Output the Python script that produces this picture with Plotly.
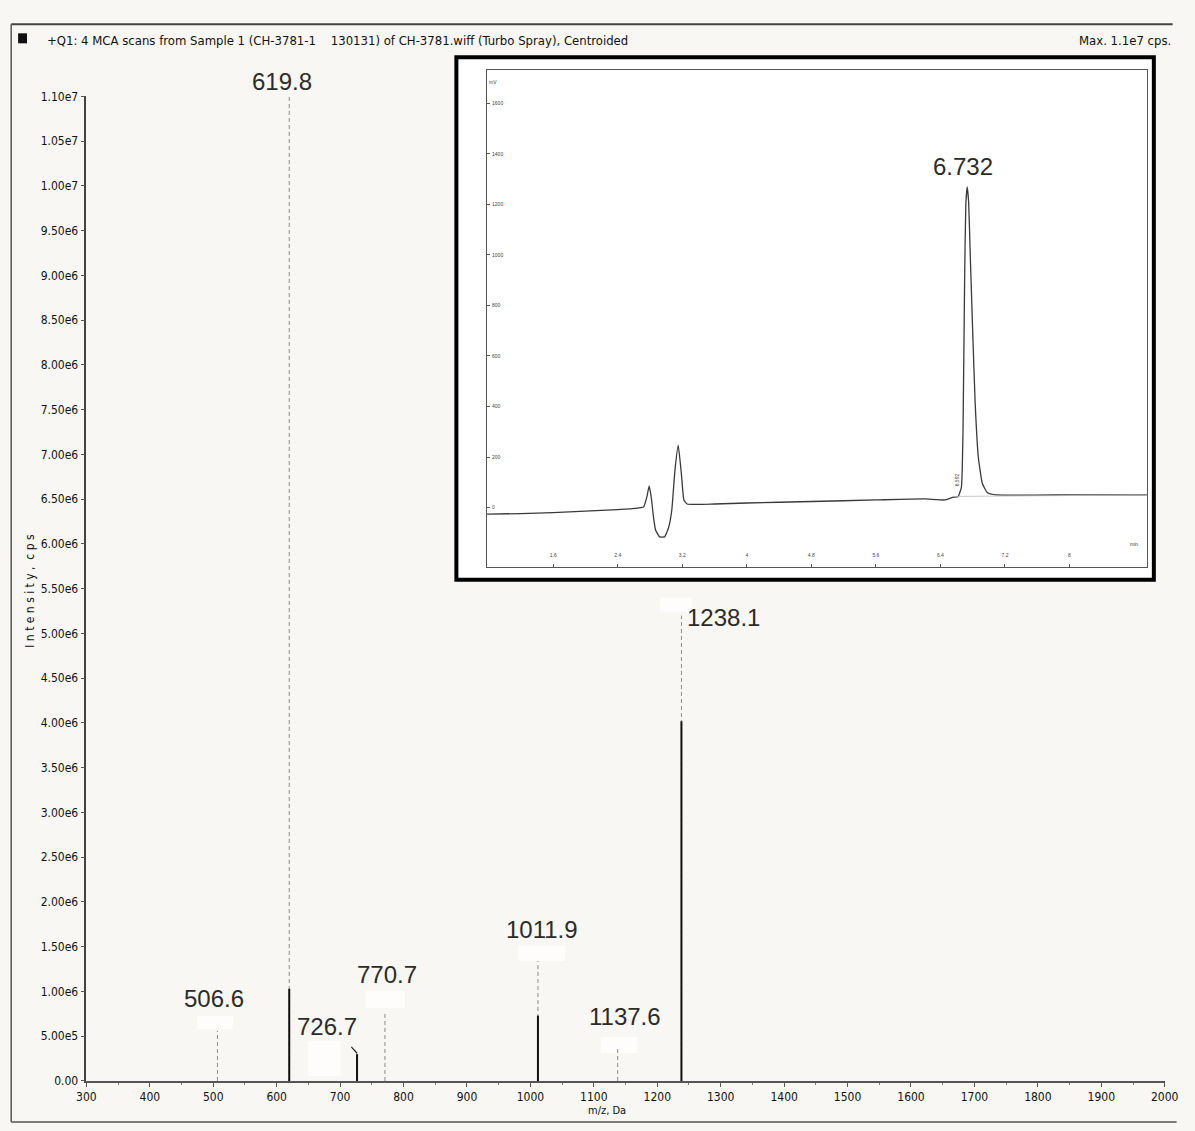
import plotly.graph_objects as go

# ---------------- Mass spectrum (centroided) ----------------
mz_values = [506.6, 619.8, 726.7, 770.7, 1011.9, 1137.6, 1238.1]
apex_intensity = [0.56e6, 1.10e7, 0.30e6, 0.76e6, 1.34e6, 0.36e6, 5.20e6]
centroid_intensity = [0.0, 1.03e6, 0.30e6, 0.0, 0.73e6, 0.0, 4.02e6]
peak_labels = ["506.6", "619.8", "726.7", "770.7", "1011.9", "1137.6", "1238.1"]

y_tick_vals = [i * 5e5 for i in range(23)]
y_tick_text = ["0.00", "5.00e5", "1.00e6", "1.50e6", "2.00e6", "2.50e6", "3.00e6",
               "3.50e6", "4.00e6", "4.50e6", "5.00e6", "5.50e6", "6.00e6", "6.50e6",
               "7.00e6", "7.50e6", "8.00e6", "8.50e6", "9.00e6", "9.50e6", "1.00e7",
               "1.05e7", "1.10e7"]
x_tick_vals = list(range(300, 2001, 100))

# ---------------- HPLC chromatogram (inset) ----------------
rt_min = [0.78, 1.2, 1.6, 2.0, 2.4, 2.65, 2.72, 2.76, 2.79, 2.82, 2.84, 2.87, 2.92,
          2.98, 3.03, 3.07, 3.11, 3.15, 3.19, 3.22, 3.26, 3.6, 4.0, 4.8, 5.6, 6.2,
          6.45, 6.55, 6.62, 6.66, 6.68, 6.70, 6.715, 6.732, 6.75, 6.77, 6.80, 6.83,
          6.87, 6.92, 6.98, 7.1, 8.0, 8.96]
signal_mv = [-26, -24, -20, -14, -8, -2, 2, 40, 86, 30, -30, -90, -116,
             -116, -80, -10, 150, 247, 130, 30, 14, 14, 18, 24, 30, 34,
             30, 40, 44, 80, 300, 900, 1200, 1270, 1210, 1000, 700, 420,
             200, 95, 60, 50, 50, 50]
inset_x_ticks = [1.6, 2.4, 3.2, 4.0, 4.8, 5.6, 6.4, 7.2, 8.0]
inset_x_text = ["1.6", "2.4", "3.2", "4", "4.8", "5.6", "6.4", "7.2", "8"]
inset_y_ticks = [-200, 0, 200, 400, 600, 800, 1000, 1200, 1400, 1600]
main_peak_rt = "6.732"
shoulder_rt = "6.592"

W, H = 1195, 1131
BG = "#f9f7f3"
TXT = "#2b2b2b"
NARROW = "Liberation Sans Narrow, DejaVu Sans Condensed, Arial Narrow, sans-serif"
ARIAL = "Liberation Sans, Arial, sans-serif"

# window pixel -> paper fraction (page body margin and viewport fit folded in)
SX, AX = 0.9905, 10.8
SY, AY = 0.987, 6.7


def px(x):
    return ((x - AX) / SX) / W


def py(y):
    return 1 - ((y - AY) / SY) / H


fig = go.Figure()

# full-height peak sticks (faint dashed)
xs, ys = [], []
for m, a in zip(mz_values, apex_intensity):
    xs += [m, m, None]
    ys += [0, a, None]
fig.add_trace(go.Scatter(x=xs, y=ys, mode="lines", xaxis="x", yaxis="y",
                         line=dict(color="#8a8a8a", width=1, dash="4px,3px"),
                         hoverinfo="skip", showlegend=False))

# centroided part of each peak (solid)
xs, ys = [], []
for m, c in zip(mz_values, centroid_intensity):
    if c > 0:
        xs += [m, m, None]
        ys += [0, c, None]
fig.add_trace(go.Scatter(x=xs, y=ys, mode="lines", xaxis="x", yaxis="y",
                         line=dict(color="#111111", width=2),
                         hoverinfo="skip", showlegend=False))

# chromatogram trace
fig.add_trace(go.Scatter(x=rt_min, y=signal_mv, mode="lines", xaxis="x2", yaxis="y2",
                         line=dict(color="#3a3a3a", width=1.3, shape="spline", smoothing=0.4),
                         hoverinfo="skip", showlegend=False))
# integration baseline under the main peak
fig.add_trace(go.Scatter(x=[6.55, rt_min[-1]], y=[44, 50], mode="lines", xaxis="x2", yaxis="y2",
                         line=dict(color="#b8b8b8", width=0.8),
                         hoverinfo="skip", showlegend=False))

shapes = []
# page frame
shapes.append(dict(type="line", xref="paper", yref="paper", x0=px(12), x1=px(1186), y0=py(24), y1=py(24),
                   line=dict(color="#444", width=2), layer="below"))
shapes.append(dict(type="line", xref="paper", yref="paper", x0=px(12), x1=px(12), y0=py(24), y1=py(1121),
                   line=dict(color="#555", width=1.5), layer="below"))
shapes.append(dict(type="line", xref="paper", yref="paper", x0=px(12), x1=px(1190), y0=py(1121), y1=py(1121),
                   line=dict(color="#555", width=1.5), layer="below"))
# header marker square
shapes.append(dict(type="rect", xref="paper", yref="paper", x0=px(19), x1=px(28), y0=py(43), y1=py(33),
                   fillcolor="#111", line=dict(width=0), layer="below"))
# light patches behind peak labels
for x0, x1, y0, y1 in [(668, 700, 597, 611), (525, 572, 945, 960), (370, 410, 990, 1007),
                       (312, 345, 1040, 1075), (608, 645, 1036, 1052), (200, 236, 1015, 1028)]:
    shapes.append(dict(type="rect", xref="paper", yref="paper", x0=px(x0), x1=px(x1), y0=py(y1), y1=py(y0),
                       fillcolor="rgba(255,255,255,0.75)", line=dict(width=0), layer="below"))
# inset panel
shapes.append(dict(type="rect", xref="paper", yref="paper", x0=px(462), x1=px(1167), y0=py(579), y1=py(57),
                   fillcolor="white", line=dict(color="#000", width=4), layer="below"))
# leader tick on the 726.7 peak
i7 = peak_labels.index("726.7")
shapes.append(dict(type="line", xref="x", yref="y", x0=mz_values[i7] - 9, x1=mz_values[i7],
                   y0=apex_intensity[i7] + 0.08e6, y1=apex_intensity[i7] + 0.01e6,
                   line=dict(color="#222", width=1.2)))

annotations = []
# peak labels (pixel offsets from each apex)
label_offsets = {"506.6": (-3, -32), "619.8": (-7, -15), "726.7": (-30, -28), "770.7": (2, -38),
                 "1011.9": (4, -32), "1137.6": (7, -32), "1238.1": (42, 2)}
for m, a, lab in zip(mz_values, apex_intensity, peak_labels):
    dx, dy = label_offsets[lab]
    annotations.append(dict(x=m, y=a, xref="x", yref="y", text=lab, showarrow=False,
                            xshift=dx, yshift=-dy, font=dict(family=ARIAL, size=24, color=TXT)))

annotations += [
    dict(x=px(46), y=py(40), xref="paper", yref="paper", xanchor="left", yanchor="middle",
         text="+Q1: 4 MCA scans from Sample 1 (CH-3781-1&nbsp;&nbsp;&nbsp;&nbsp;130131) of CH-3781.wiff (Turbo Spray), Centroided",
         showarrow=False, font=dict(family=NARROW, size=13, color="#111")),
    dict(x=px(1186), y=py(40), xref="paper", yref="paper", xanchor="right", yanchor="middle",
         text="Max. 1.1e7 cps.", showarrow=False, font=dict(family=NARROW, size=13, color="#111")),
    dict(x=px(22), y=py(590), xref="paper", yref="paper", textangle=-90,
         text="I n t e n s i t y ,  c p s", showarrow=False,
         font=dict(family=NARROW, size=12, color="#111")),
    dict(x=px(614), y=py(1118), xref="paper", yref="paper",
         text="m/z, Da", showarrow=False, font=dict(family=NARROW, size=11, color="#111")),
    # inset texts
    dict(x=6.732, y=1270, xref="x2", yref="y2", text=main_peak_rt, showarrow=False, yshift=20,
         xshift=-4, font=dict(family=ARIAL, size=24, color=TXT)),
    dict(x=6.60, y=110, xref="x2", yref="y2", text=shoulder_rt, showarrow=False, textangle=-90,
         font=dict(family=ARIAL, size=5, color="#444")),
    dict(x=px(499), y=py(77), xref="paper", yref="paper", text="mV", showarrow=False,
         font=dict(family=ARIAL, size=5, color="#444")),
    dict(x=px(1153), y=py(543), xref="paper", yref="paper", text="min", showarrow=False,
         font=dict(family=ARIAL, size=5, color="#444")),
]

fig.update_layout(
    width=W, height=H, autosize=False,
    margin=dict(l=0, r=0, t=0, b=0),
    paper_bgcolor=BG, plot_bgcolor="rgba(0,0,0,0)",
    showlegend=False,
    shapes=shapes, annotations=annotations,
    xaxis=dict(domain=[px(88), px(1178)], range=[300, 2000], anchor="y",
               tickvals=x_tick_vals, ticktext=[str(v) for v in x_tick_vals],
               ticks="outside", ticklen=4, tickcolor="#555", tickwidth=1,
               minor=dict(dtick=50, ticks="outside", ticklen=2, tickcolor="#777"),
               showline=True, linecolor="#555", linewidth=1.5,
               showgrid=False, zeroline=False,
               tickfont=dict(family=NARROW, size=12, color="#111")),
    yaxis=dict(domain=[py(1080), py(96)], range=[0, 1.1e7], anchor="x",
               tickvals=y_tick_vals, ticktext=y_tick_text,
               ticks="outside", ticklen=4, tickcolor="#555", tickwidth=1,
               showline=True, linecolor="#444", linewidth=1.5,
               showgrid=False, zeroline=False,
               tickfont=dict(family=NARROW, size=12, color="#111")),
    xaxis2=dict(domain=[px(493), px(1160)], range=[0.78, 8.96], anchor="y2",
                tickvals=inset_x_ticks, ticktext=inset_x_text,
                ticks="inside", ticklen=3, tickcolor="#555",
                ticklabelposition="inside", ticklabelstandoff=4,
                showline=True, mirror=True, linecolor="#555", linewidth=1,
                showgrid=False, zeroline=False,
                tickfont=dict(family=ARIAL, size=5, color="#444")),
    yaxis2=dict(domain=[py(566), py(70)], range=[-234, 1731], anchor="x2",
                tickvals=inset_y_ticks, ticktext=[str(v) for v in inset_y_ticks],
                ticks="inside", ticklen=3, tickcolor="#555",
                ticklabelposition="inside",
                showline=True, mirror=True, linecolor="#555", linewidth=1,
                showgrid=False, zeroline=False,
                tickfont=dict(family=ARIAL, size=5, color="#444")),
)

fig.write_html("out.html")
